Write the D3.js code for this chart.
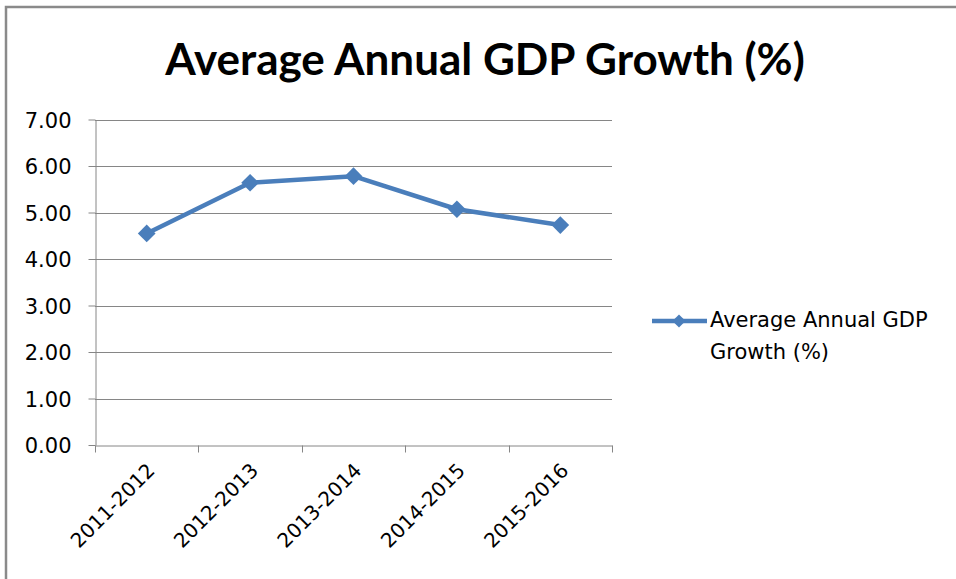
<!DOCTYPE html>
<html><head><meta charset="utf-8">
<script src="https://cdn.jsdelivr.net/npm/d3@7"></script>
<style>body{margin:0;background:#fff;} svg{display:block;}</style>
</head><body>
<svg id="chart" width="956" height="579"></svg>
<script>
const categories = ["2011-2012","2012-2013","2013-2014","2014-2015","2015-2016"];
const values = [4.55, 5.64, 5.78, 5.07, 4.73];
const yTicks = [0,1,2,3,4,5,6,7];
const seriesLines = ["Average Annual GDP","Growth (%)"];
const titleText = "Average Annual GDP Growth (%)";

const svg = d3.select("#chart");
const titleFont = "Lato, 'Open Sans', sans-serif";
const font = "'DejaVu Sans', sans-serif";
const color = "#4A7EBB";

// outer border
svg.append("path").attr("d","M6,579 V7 H956").attr("fill","none").attr("stroke","#8a8a8a").attr("stroke-width",2.5);

const x = d3.scaleBand().domain(categories).range([95,612]);
const y = d3.scaleLinear().domain([0,7]).range([445,119.5]);

svg.append("text").attr("x",485).attr("y",75).attr("text-anchor","middle")
  .attr("font-family",titleFont).attr("font-weight","bold").attr("font-size",44).attr("fill","#000")
  .text(titleText);

// gridlines
svg.append("g").selectAll("line").data(yTicks.slice(1)).join("line")
  .attr("x1",95).attr("x2",612).attr("y1",d=>Math.round(y(d))+0.5).attr("y2",d=>Math.round(y(d))+0.5)
  .attr("stroke","#868686").attr("stroke-width",1);

// y axis
const yAxis = svg.append("g").attr("transform","translate(95.5,0)")
  .call(d3.axisLeft(y).tickValues(yTicks).tickFormat(d3.format(".2f")).tickSize(7).tickSizeOuter(0));
yAxis.select(".domain").attr("stroke","#868686");
yAxis.selectAll(".tick line").attr("stroke","#868686");
yAxis.selectAll(".tick text").attr("font-family",font).attr("font-size",21).attr("fill","#000").attr("x",-24).attr("dy","0.36em");

// x axis
const xAxis = svg.append("g").attr("transform","translate(0,"+(Math.round(y(0))+0.5)+")")
  .call(d3.axisBottom(x).tickSize(0).tickSizeOuter(0).tickFormat(""));
xAxis.select(".domain").attr("stroke","#868686");
xAxis.selectAll(".tick").remove();
const bounds = categories.map(c=>x(c)).concat([x.range()[1]]);
xAxis.selectAll("line.tk").data(bounds).join("line").attr("class","tk")
  .attr("x1",d=>Math.round(d)+0.5).attr("x2",d=>Math.round(d)+0.5).attr("y1",0).attr("y2",7)
  .attr("stroke","#868686");
xAxis.selectAll("text.lbl").data(categories).join("text").attr("class","lbl")
  .attr("transform",d=>`translate(${x(d)+x.bandwidth()/2-1},16) rotate(-45)`)
  .attr("text-anchor","end").attr("dy","0.73em")
  .attr("font-family",font).attr("font-size",20).attr("fill","#000").text(d=>d);

// line
const line = d3.line().x((d,i)=>x(categories[i])+x.bandwidth()/2).y(d=>y(d));
svg.append("path").datum(values).attr("d",line).attr("fill","none")
  .attr("stroke",color).attr("stroke-width",4.5).attr("stroke-linejoin","round");
const diamond = d3.symbol().type(d3.symbolDiamond2).size(200);
svg.selectAll("path.pt").data(values).join("path").attr("class","pt")
  .attr("transform",(d,i)=>`translate(${x(categories[i])+x.bandwidth()/2},${y(d)})`)
  .attr("d",diamond).attr("fill",color);

// legend
const lg = svg.append("g");
lg.append("line").attr("x1",652).attr("x2",707).attr("y1",321).attr("y2",321).attr("stroke",color).attr("stroke-width",4.5);
lg.append("path").attr("transform","translate(679,321)").attr("d",d3.symbol().type(d3.symbolDiamond2).size(110)).attr("fill",color);
const lt = lg.append("text").attr("font-family",font).attr("font-size",21).attr("fill","#000");
lt.selectAll("tspan").data(seriesLines).join("tspan").attr("x",710).attr("y",(d,i)=>327+i*32).text(d=>d);
</script>
</body></html>
